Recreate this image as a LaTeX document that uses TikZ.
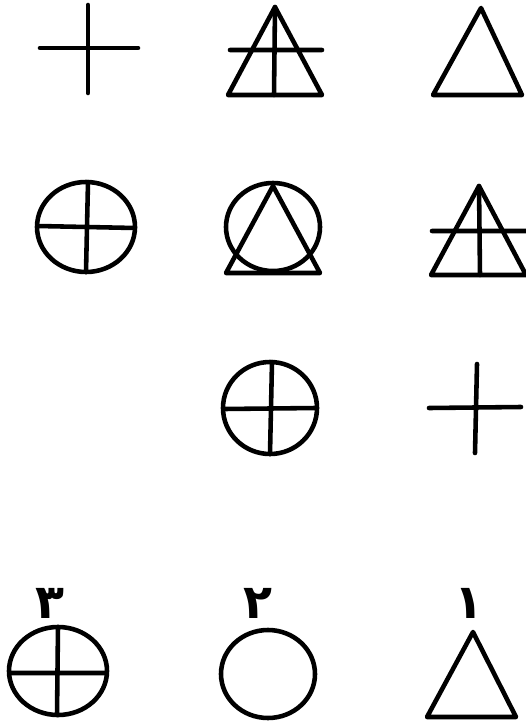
\documentclass[tikz,border=0pt]{standalone}
\usepackage{fontspec}
\newfontfamily\arabicfont[Script=Arabic]{DejaVu Sans}
\TeXXeTstate=1
\begin{document}
\begin{tikzpicture}[x=0.02cm, y=-0.02cm,
    sign/.style={line width=2.6pt, line cap=round, line join=round},
    num/.style={font=\arabicfont\bfseries\fontsize{27}{30}\selectfont, inner sep=0pt},
  ]
  \useasboundingbox (0,0) rectangle (526,727);

  % Row 1
  \draw[sign] (40,48) -- (138,48) (88,5) -- (88,93);
  \draw[sign] (275,7) -- (322,95) -- (228,95) -- cycle;
  \draw[sign] (230,50) -- (322,50) (275,7) -- (274,95);
  \draw[sign] (481,8) -- (522,95) -- (433,95) -- cycle;

  % Row 2
  \draw[sign] (86,227) ellipse [x radius=49, y radius=45];
  \draw[sign] (38,226) -- (135,228) (88,182) -- (86,272);
  \draw[sign] (273,227) ellipse [x radius=47, y radius=44];
  \draw[sign] (273,186) -- (320,273) -- (226,273) -- cycle;
  \draw[sign] (479,186) -- (526,275) -- (431,275) -- cycle;
  \draw[sign] (432,231) -- (526,231) (479,186) -- (480,275);

  % Row 3
  \draw[sign] (270,408) ellipse [x radius=47, y radius=46];
  \draw[sign] (224,409) -- (316,408) (272,362) -- (270,454);
  \draw[sign] (429,408) -- (521,407) (477,364) -- (475,453);

  % Row 4
  \node[num] (n3) at (50,603) {\beginR ٣\endR};
  \node[num] (n2) at (258,603) {\beginR ٢\endR};
  \node[num] (n1) at (469,603) {\beginR ١\endR};
  \draw[sign] (58,671) ellipse [x radius=49, y radius=44];
  \draw[sign] (10,673) -- (106,673) (58,627) -- (57,715);
  \draw[sign] (268,674) ellipse [x radius=47, y radius=44];
  \draw[sign] (473,632) -- (516,717) -- (427,717) -- cycle;
\end{tikzpicture}
\end{document}
